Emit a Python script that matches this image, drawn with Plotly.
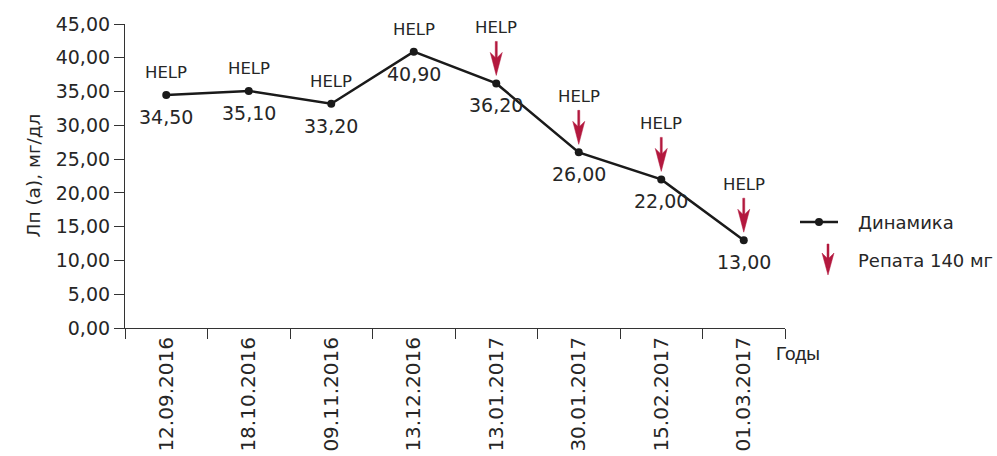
import plotly.graph_objects as go

dates = ["12.09.2016", "18.10.2016", "09.11.2016", "13.12.2016",
         "13.01.2017", "30.01.2017", "15.02.2017", "01.03.2017"]
values = [34.50, 35.10, 33.20, 40.90, 36.20, 26.00, 22.00, 13.00]
value_labels = ["34,50", "35,10", "33,20", "40,90", "36,20", "26,00", "22,00", "13,00"]
repatha = [False, False, False, False, True, True, True, True]
y_ticks = [0, 5, 10, 15, 20, 25, 30, 35, 40, 45]
y_tick_labels = ["0,00", "5,00", "10,00", "15,00", "20,00", "25,00", "30,00", "35,00", "40,00", "45,00"]

FONT = "DejaVu Sans"
TXT = "#262626"
RED = "#B3183E"
LINE = "#1a1a1a"

# arrow glyph (pixel offsets, y up, relative to anchor)
ARROW_PATH = "M0,8 L-6,31 L-1,26 L-1,42 L1,42 L1,26 L6,31 Z"
LEGEND_ARROW_PATH = "M0,0 L-6,22 L-1,17 L-1,31 L1,31 L1,17 L6,22 Z"

fig = go.Figure()
fig.add_trace(go.Scatter(
    x=dates, y=values, mode="lines+markers",
    line=dict(color=LINE, width=2.5),
    marker=dict(color=LINE, size=8),
    showlegend=False, hoverinfo="skip"))

annotations = []
shapes = []
for d, v, lab, r in zip(dates, values, value_labels, repatha):
    annotations.append(dict(x=d, y=v, text=lab, showarrow=False, yshift=-22,
                            yanchor="middle",
                            font=dict(family=FONT, size=19, color=TXT)))
    annotations.append(dict(x=d, y=v, text="HELP", showarrow=False,
                            yshift=56 if r else 22, yanchor="middle",
                            font=dict(family=FONT, size=16.5, color=TXT)))
    if r:
        shapes.append(dict(type="path", xref="x", yref="y",
                           xsizemode="pixel", ysizemode="pixel",
                           xanchor=d, yanchor=v, path=ARROW_PATH,
                           fillcolor=RED, line=dict(color=RED, width=0.5)))

# y-axis title
annotations.append(dict(xref="paper", yref="paper", x=0, y=0.5, xshift=-105,
                        text="Лп (а), мг/дл", textangle=-90, showarrow=False,
                        font=dict(family=FONT, size=18.5, color=TXT)))
# x-axis title
annotations.append(dict(xref="paper", yref="paper", x=1, y=0, xanchor="left",
                        yanchor="middle", xshift=-11, yshift=-25, text="Годы",
                        showarrow=False,
                        font=dict(family="Liberation Sans Narrow, Liberation Sans", size=19, color=TXT)))

# legend
def px(xp):
    return (xp - 125) / 660
def py(yp):
    return (328 - yp) / 304

annotations.append(dict(xref="paper", yref="paper", x=px(856), y=py(222), xanchor="left",
                        yanchor="middle", text="Динамика", showarrow=False,
                        font=dict(family=FONT, size=18, color=TXT)))
annotations.append(dict(xref="paper", yref="paper", x=px(856), y=py(260), xanchor="left",
                        yanchor="middle", text="Репата 140 мг", showarrow=False,
                        font=dict(family=FONT, size=18, color=TXT)))

shapes += [
    dict(type="line", xref="paper", yref="paper", x0=px(800), x1=px(838),
         y0=py(222), y1=py(222), line=dict(color=LINE, width=2.5)),
    dict(type="circle", xref="paper", yref="paper", xsizemode="pixel", ysizemode="pixel",
         xanchor=px(819), yanchor=py(222), x0=-4, x1=4, y0=-4, y1=4,
         fillcolor=LINE, line=dict(color=LINE, width=0)),
    dict(type="path", xref="paper", yref="paper", xsizemode="pixel", ysizemode="pixel",
         xanchor=px(828), yanchor=py(275), path=LEGEND_ARROW_PATH,
         fillcolor=RED, line=dict(color=RED, width=0.5)),
]

fig.update_layout(
    width=997, height=456,
    margin=dict(l=125, r=212, t=24, b=128),
    paper_bgcolor="white", plot_bgcolor="white",
    annotations=annotations, shapes=shapes,
    font=dict(family=FONT, color=TXT),
    xaxis=dict(type="category", range=[-0.5, 7.5], tickson="boundaries",
               ticks="outside", ticklen=10, tickcolor="#333", tickwidth=1,
               showline=True, linecolor="#333", linewidth=1.2,
               showgrid=False, tickangle=-90, automargin=False,
               tickfont=dict(family=FONT, size=20, color=TXT)),
    yaxis=dict(range=[0, 45], tickvals=y_ticks, ticktext=y_tick_labels,
               ticks="outside", ticklen=10, tickcolor="#333", tickwidth=1,
               showline=True, linecolor="#333", linewidth=1.2,
               showgrid=False, zeroline=False, automargin=False,
               tickfont=dict(family=FONT, size=19, color=TXT)),
)

fig.write_html("out.html")
